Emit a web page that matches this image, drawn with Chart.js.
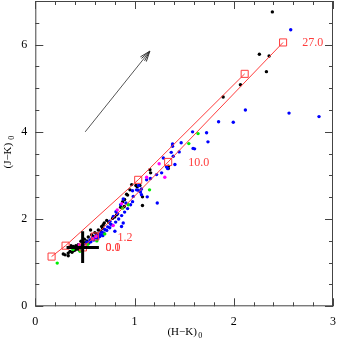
<!DOCTYPE html>
<html>
<head>
<meta charset="utf-8">
<script src="https://cdn.jsdelivr.net/npm/chart.js@4.4.1/dist/chart.umd.min.js"></script>
<style>
  html, body { margin: 0; padding: 0; background: #fff; }
  #wrap { width: 338px; height: 343px; }
</style>
</head>
<body>
<div id="wrap"><canvas id="grafico"></canvas></div>
<script>
// ejes
const xTicks = [0, 1, 2, 3];
const yTicks = [0, 2, 4, 6];

// estrellas por color  [H-K, J-K]
const negros = [
  [2.389, 6.75], [2.258, 5.78], [2.356, 5.74], [2.329, 5.38], [2.067, 5.08], [1.893, 4.80],
  [1.155, 3.13], [1.162, 3.06], [1.34, 3.21], [1.34, 3.16], [1.027, 2.74], [1.054, 2.77],
  [0.971, 2.79], [1.014, 2.77], [1.08, 2.51], [1.08, 2.31], [0.954, 2.67], [0.92, 2.57],
  [0.88, 2.40], [0.896, 2.29], [0.82, 2.10], [0.80, 2.05], [0.685, 1.87], [0.68, 1.79],
  [0.72, 1.97], [0.695, 1.91], [0.669, 1.83], [0.635, 1.75], [0.60, 1.69], [0.568, 1.64],
  [0.557, 1.75], [0.534, 1.59], [0.494, 1.54], [0.46, 1.49], [0.433, 1.41], [0.36, 1.39],
  [0.383, 1.37], [0.40, 1.29], [0.417, 1.31], [0.35, 1.26], [0.332, 1.22], [0.282, 1.20],
  [0.332, 1.16], [0.389, 1.28], [0.376, 1.36], [0.409, 1.39], [0.30, 1.18], [0.37, 1.24],
  [0.44, 1.30], [0.47, 1.40], [0.50, 1.46], [0.52, 1.50], [0.58, 1.60], [0.62, 1.66],
  [0.66, 1.72], [0.74, 1.93], [0.78, 2.02], [0.86, 2.27], [0.90, 2.45], [0.93, 2.55]
];
const azules = [
  [2.574, 6.34], [2.557, 4.43], [2.859, 4.35], [2.117, 4.50], [1.995, 4.22], [1.847, 4.23],
  [1.585, 4.00], [1.726, 3.98], [1.74, 3.77], [1.59, 3.62], [1.605, 3.61], [1.47, 3.75],
  [1.383, 3.72], [1.383, 3.67], [1.37, 3.53], [1.45, 3.54], [1.39, 3.44], [1.29, 3.40],
  [1.322, 3.20], [1.407, 3.25], [1.333, 3.16], [1.273, 3.06], [1.222, 3.02], [1.122, 2.90],
  [1.038, 2.66], [1.02, 2.67], [0.98, 2.65], [1.04, 2.77], [1.07, 2.69], [1.128, 2.51],
  [1.07, 2.56], [0.987, 2.52], [1.229, 2.37], [0.886, 2.46], [0.913, 2.37], [0.86, 2.33],
  [0.813, 2.17], [0.83, 2.12], [0.786, 2.06], [0.752, 1.95], [0.886, 1.91], [0.869, 1.83],
  [0.802, 1.72], [0.76, 1.88], [0.73, 1.82], [0.70, 1.76], [0.67, 1.70], [0.64, 1.66],
  [0.61, 1.62], [0.58, 1.57], [0.55, 1.52], [0.52, 1.47], [0.49, 1.42], [0.62, 1.58],
  [0.66, 1.64], [0.69, 1.68], [0.72, 1.74], [0.75, 1.80], [0.78, 1.86], [0.81, 1.93],
  [0.84, 2.00], [0.87, 2.08], [0.90, 2.16], [0.93, 2.24], [0.96, 2.33], [0.98, 2.40],
  [0.56, 1.48], [0.59, 1.52], [0.63, 1.55], [0.68, 1.62], [0.54, 1.45], [0.57, 1.55],
  [0.60, 1.57], [0.65, 1.60], [1.16, 2.93], [1.06, 2.62]
];
const magentas = [
  [1.248, 3.27], [1.305, 2.96], [1.122, 2.96], [0.826, 2.21], [0.785, 1.85],
  [0.611, 1.60], [0.443, 1.41], [0.58, 1.55], [0.87, 2.35]
];
const verdes = [
  [0.221, 0.99], [1.547, 3.73], [1.64, 3.96], [1.151, 2.67], [0.936, 2.33], [0.38, 1.30],
  [0.53, 1.42], [0.62, 1.50], [0.70, 1.66], [0.88, 2.25], [0.45, 1.26]
];

// secuencias (rojo)
const curvaA = [[0.164, 1.14], [0.305, 1.39], [1.037, 2.90], [2.11, 5.33]];
const curvaB = [[0.48, 1.35], [0.60, 1.60], [1.339, 3.31], [2.497, 6.05]];
const etiquetas = ['27.0', '10.0', '1.2', '0.0', '0.1'];
const etiquetasPos = [[2.797, 6.05], [1.647, 3.30], [0.904, 1.57], [0.783, 1.34], [0.783, 1.34]];

// vector de enrojecimiento y barra de error
const flecha = [[0.503, 4.0], [1.154, 5.85]];
const cruzH = [[0.315, 1.35], [0.641, 1.35]];
const cruzV = [[0.477, 0.99], [0.477, 1.72]];

const pts = arr => arr.map(([x, y]) => ({ x, y }));
const ROJO = 'rgb(255,60,60)';
const FUENTE = '"Liberation Serif", "DejaVu Serif", serif';

function puntos(arr, color) {
  return {
    type: 'scatter', data: pts(arr), showLine: false,
    pointRadius: 1.7, pointBackgroundColor: color, pointBorderWidth: 0
  };
}

function linea(arr, color, ancho, extra) {
  return Object.assign({
    type: 'line', data: pts(arr), borderColor: color, borderWidth: ancho,
    pointRadius: 0, fill: false, tension: 0
  }, extra || {});
}

// sin relleno extra por las etiquetas de los ticks
function sinPadding(s) {
  s.paddingTop = 0; s.paddingBottom = 0; s.paddingLeft = 0; s.paddingRight = 0;
}

// marco con ticks hacia adentro, etiquetas rojas, flecha y titulos
const decoracion = {
  id: 'decoracion',
  afterDraw(chart) {
    const { ctx, chartArea: a, scales: { x, y } } = chart;
    ctx.save();
    ctx.strokeStyle = '#444';
    ctx.lineWidth = 1;
    ctx.strokeRect(a.left + 0.5, a.top + 0.5, a.right - a.left - 1, a.bottom - a.top - 1);
    ctx.beginPath();
    for (let i = 0; i <= 15; i++) {
      const v = i * 0.2;
      const px = Math.round(x.getPixelForValue(v)) + 0.5;
      const largo = i % 5 === 0 ? 8 : 4;
      ctx.moveTo(px, a.bottom); ctx.lineTo(px, a.bottom - largo);
      ctx.moveTo(px, a.top); ctx.lineTo(px, a.top + largo);
    }
    for (let i = 0; i <= 14; i++) {
      const v = i * 0.5;
      const py = Math.round(y.getPixelForValue(v)) + 0.5;
      const largo = i % 4 === 0 ? 8 : 4;
      ctx.moveTo(a.left, py); ctx.lineTo(a.left + largo, py);
      ctx.moveTo(a.right, py); ctx.lineTo(a.right - largo, py);
    }
    ctx.stroke();

    // punta de la flecha
    const x0 = x.getPixelForValue(flecha[0][0]), y0 = y.getPixelForValue(flecha[0][1]);
    const x1 = x.getPixelForValue(flecha[1][0]), y1 = y.getPixelForValue(flecha[1][1]);
    const ang = Math.atan2(y1 - y0, x1 - x0);
    ctx.strokeStyle = '#333';
    ctx.beginPath();
    [-0.35, -0.18, 0.18, 0.35].forEach(d => {
      ctx.moveTo(x1, y1);
      ctx.lineTo(x1 - 11 * Math.cos(ang + d), y1 - 11 * Math.sin(ang + d));
    });
    ctx.stroke();

    // etiquetas rojas
    ctx.fillStyle = ROJO;
    ctx.font = '12px ' + FUENTE;
    ctx.textAlign = 'center';
    ctx.textBaseline = 'middle';
    etiquetas.forEach((t, i) => {
      ctx.fillText(t, x.getPixelForValue(etiquetasPos[i][0]), y.getPixelForValue(etiquetasPos[i][1]));
    });

    // titulos de ejes
    ctx.fillStyle = '#000';
    ctx.font = '11px ' + FUENTE;
    const tx = (a.left + a.right) / 2;
    ctx.textAlign = 'center';
    ctx.textBaseline = 'alphabetic';
    ctx.fillText('(H\u2212K)', tx - 2, 335);
    ctx.font = '8px ' + FUENTE;
    ctx.textAlign = 'left';
    ctx.fillText('0', tx + 14, 338);

    ctx.translate(11, (a.top + a.bottom) / 2);
    ctx.rotate(-Math.PI / 2);
    ctx.font = '11px ' + FUENTE;
    ctx.textAlign = 'center';
    ctx.fillText('(J\u2212K)', -2, 0);
    ctx.font = '8px ' + FUENTE;
    ctx.textAlign = 'left';
    ctx.fillText('0', 14, 3);
    ctx.restore();
  }
};

new Chart(document.getElementById('grafico'), {
  data: {
    datasets: [
      linea(cruzH, '#000', 3),
      linea(cruzV, '#000', 3),
      linea(curvaA, ROJO, 1, { pointRadius: 5, pointStyle: 'rect', pointBorderColor: ROJO, pointBackgroundColor: 'rgba(0,0,0,0)', pointBorderWidth: 1 }),
      linea(curvaB, ROJO, 1, { pointRadius: 5, pointStyle: 'rect', pointBorderColor: ROJO, pointBackgroundColor: 'rgba(0,0,0,0)', pointBorderWidth: 1 }),
      linea(flecha, '#555', 1),
      puntos(verdes, '#00ee00'),
      puntos(magentas, '#ff00ff'),
      puntos(azules, '#0000ff'),
      puntos(negros, '#000')
    ]
  },
  options: {
    responsive: true,
    maintainAspectRatio: false,
    animation: false,
    events: [],
    layout: { autoPadding: false, padding: { left: 0, right: 5, top: 1, bottom: 0 } },
    plugins: { legend: { display: false }, tooltip: { enabled: false } },
    scales: {
      x: {
        type: 'linear', min: 0, max: 3,
        grid: { display: false, drawTicks: false },
        border: { display: false },
        afterBuildTicks: s => { s.ticks = xTicks.map(v => ({ value: v })); },
        afterFit: s => { s.height = 36.7; sinPadding(s); },
        ticks: { color: '#000', padding: 8, maxRotation: 0, font: { family: FUENTE, size: 12 } }
      },
      y: {
        type: 'linear', min: 0, max: 7,
        grid: { display: false, drawTicks: false },
        border: { display: false },
        afterBuildTicks: s => { s.ticks = yTicks.map(v => ({ value: v })); },
        afterFit: s => { s.width = 35.3; sinPadding(s); },
        ticks: { color: '#000', padding: 8, font: { family: FUENTE, size: 12 } }
      }
    }
  },
  plugins: [decoracion]
});
</script>
</body>
</html>
